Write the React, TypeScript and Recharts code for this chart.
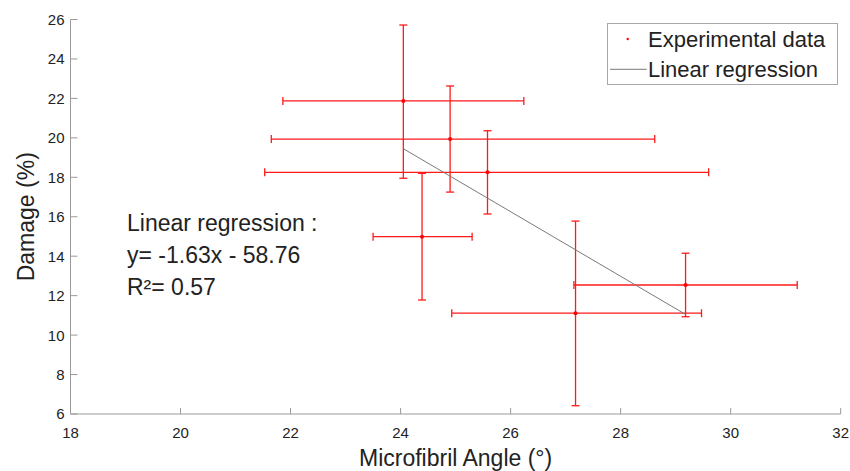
import React from 'react';
import { ScatterChart, Scatter, XAxis, YAxis, ErrorBar } from 'recharts';

// Experimental data (microfibril angle in degrees, damage in %)
const mfa = [24.05, 24.9, 25.58, 24.39, 27.18, 29.18];
const mfaLow = [21.86, 21.65, 21.53, 23.5, 24.93, 27.15];
const mfaHigh = [26.24, 28.62, 29.6, 25.3, 29.47, 31.21];
const damage = [21.87, 19.94, 18.25, 14.99, 11.11, 12.54];
const damageLow = [17.95, 17.25, 16.14, 11.78, 6.42, 10.93];
const damageHigh = [25.72, 22.63, 20.36, 18.2, 15.78, 14.15];

// Linear regression endpoints
const regX = [24.05, 29.18];
const regY = [19.45, 11.05];

const xTicks = [18, 20, 22, 24, 26, 28, 30, 32];
const yTicks = [6, 8, 10, 12, 14, 16, 18, 20, 22, 24, 26];

const annotation = ['Linear regression :', 'y= -1.63x - 58.76', 'R\u00b2= 0.57'];
const legendLabels = ['Experimental data', 'Linear regression'];

const FONT = '"Liberation Sans", Arial, Helvetica, sans-serif';
const AXIS = '#9a9a9a';
const TXT = '#222';

const points = mfa.map((x, i) => ({
  x,
  y: damage[i],
  ex: [x - mfaLow[i], mfaHigh[i] - x],
  ey: [damage[i] - damageLow[i], damageHigh[i] - damage[i]],
}));
const regression = regX.map((x, i) => ({ x, y: regY[i] }));

const XTick = (props: any) => {
  const { x, y, payload } = props;
  return (
    <g>
      <line x1={x} x2={x} y1={y} y2={y - 6} stroke={AXIS} strokeWidth={1} />
      <text x={x} y={y + 23.5} textAnchor="middle" fontSize={15} fill={TXT} fontFamily={FONT}>
        {payload.value}
      </text>
    </g>
  );
};

const YTick = (props: any) => {
  const { x, y, payload } = props;
  return (
    <g>
      <line x1={x} x2={x + 7} y1={y} y2={y} stroke={AXIS} strokeWidth={1} />
      <text x={x - 6} y={y + 5.4} textAnchor="end" fontSize={15} fill={TXT} fontFamily={FONT}>
        {payload.value}
      </text>
    </g>
  );
};

const Dot = (props: any) => <circle cx={props.cx} cy={props.cy} r={2} fill="#ff0000" />;
const NoShape = () => <g />;

const YLabel = (props: any) => {
  const vb = props.viewBox || {};
  const cx = 18;
  const cy = vb.y + vb.height / 2;
  return (
    <text
      x={cx}
      y={cy}
      transform={`rotate(-90, ${cx}, ${cy})`}
      textAnchor="middle"
      dominantBaseline="central"
      fontSize={23}
      fill={TXT}
      fontFamily={FONT}
    >
      Damage (%)
    </text>
  );
};

const XLabel = (props: any) => {
  const vb = props.viewBox || {};
  return (
    <text
      x={vb.x + vb.width / 2}
      y={vb.y + 51.5}
      textAnchor="middle"
      fontSize={23}
      fill={TXT}
      fontFamily={FONT}
    >
      Microfibril Angle (°)
    </text>
  );
};

export default function App() {
  return (
    <div style={{ width: 850, height: 471, overflow: 'hidden', background: '#fff' }}>
      <style>{'html,body{margin:0;padding:0;overflow:hidden}'}</style>
      <div style={{ position: 'relative', left: 8, top: 8, width: 842, height: 463 }}>
        <ScatterChart
          width={842}
          height={463}
          margin={{ top: 11.5, right: 9.3, bottom: 0, left: 0 }}
        >
          <XAxis
            type="number"
            dataKey="x"
            domain={[18, 32]}
            ticks={xTicks}
            interval={0}
            tickSize={0}
            tickMargin={0}
            tickLine={false}
            axisLine={{ stroke: AXIS, strokeWidth: 1 }}
            tick={<XTick />}
            height={57}
            allowDataOverflow
            label={<XLabel />}
          />
          <YAxis
            type="number"
            dataKey="y"
            domain={[6, 26]}
            ticks={yTicks}
            interval={0}
            tickSize={0}
            tickMargin={0}
            tickLine={false}
            axisLine={{ stroke: AXIS, strokeWidth: 1 }}
            tick={<YTick />}
            width={62.5}
            allowDataOverflow
            label={<YLabel />}
          />
          <Scatter data={points} shape={<Dot />} isAnimationActive={false}>
            <ErrorBar dataKey="ex" direction="x" width={4} stroke="#ff1a1a" strokeWidth={1.3} />
            <ErrorBar dataKey="ey" direction="y" width={4} stroke="#ff1a1a" strokeWidth={1.3} />
          </Scatter>
          <Scatter
            data={regression}
            line={{ stroke: '#7a7a7a', strokeWidth: 1 }}
            shape={<NoShape />}
            isAnimationActive={false}
          />
        </ScatterChart>
        <svg
          width={842}
          height={463}
          style={{ position: 'absolute', left: 0, top: 0, pointerEvents: 'none' }}
        >
          {annotation.map((t, i) => (
            <text key={t} x={119} y={223 + i * 32} fontSize={23} fill={TXT} fontFamily={FONT}>
              {t}
            </text>
          ))}
          <rect x={599.5} y={15.5} width={230} height={61} fill="#fff" stroke="#a8a8a8" strokeWidth={1} />
          <circle cx={619.7} cy={31} r={1.2} fill="#ff0000" />
          <line x1={602} x2={638.7} y1={61.3} y2={61.3} stroke="#7a7a7a" strokeWidth={1} />
          {legendLabels.map((t, i) => (
            <text key={t} x={640} y={39.3 + i * 29.4} fontSize={22} fill={TXT} fontFamily={FONT}>
              {t}
            </text>
          ))}
        </svg>
      </div>
    </div>
  );
}
